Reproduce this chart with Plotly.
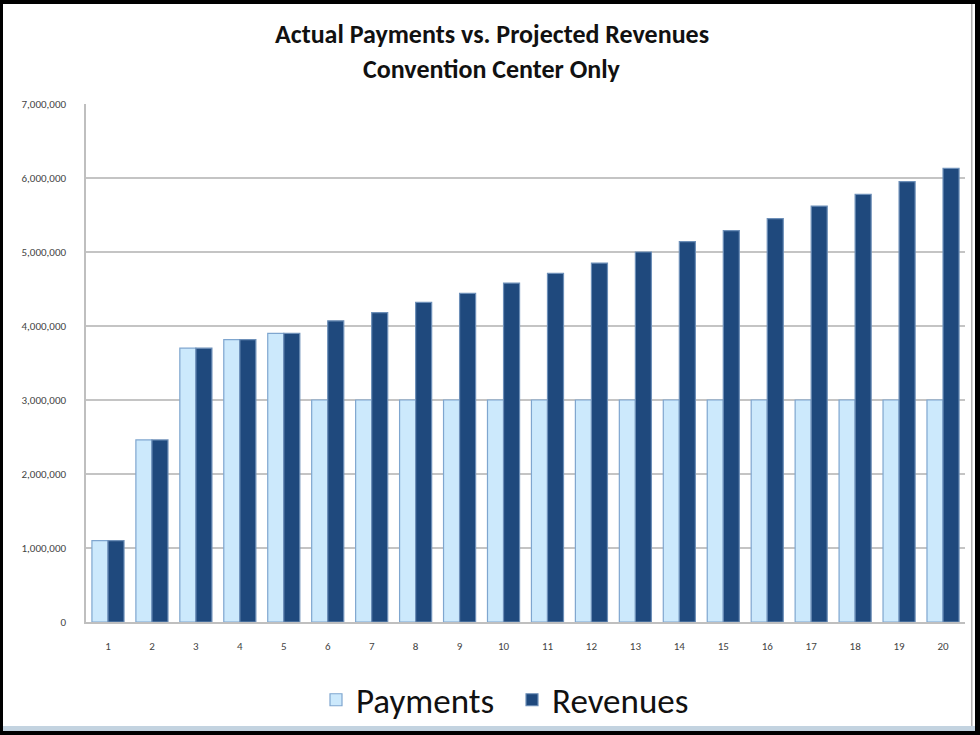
import plotly.graph_objects as go

years = [str(i) for i in range(1, 21)]
payments = [1100000, 2460000, 3700000, 3815000, 3900000,
            3000000, 3000000, 3000000, 3000000, 3000000,
            3000000, 3000000, 3000000, 3000000, 3000000,
            3000000, 3000000, 3000000, 3000000, 3000000]
revenues = [1100000, 2460000, 3700000, 3815000, 3900000,
            4070000, 4180000, 4320000, 4440000, 4580000,
            4710000, 4850000, 5000000, 5140000, 5290000,
            5450000, 5620000, 5780000, 5950000, 6130000]
y_ticks = [0, 1000000, 2000000, 3000000, 4000000, 5000000, 6000000, 7000000]

W, H = 980, 735
L, R, T, B = 86, 965, 104, 622
FONT = "Carlito, 'Liberation Sans Narrow', 'Open Sans', sans-serif"

def cx(x):
    return x / W

def cy(y):
    return 1 - y / H

fig = go.Figure()
fig.add_trace(go.Bar(name="Payments", x=years, y=payments,
                     marker=dict(color="#cce9fc", line=dict(color="#7fa6cf", width=1.2))))
fig.add_trace(go.Bar(name="Revenues", x=years, y=revenues,
                     marker=dict(color="#1f497d", line=dict(color="#6d8fb8", width=1.2))))

def crect(x0, y0, x1, y1, color):
    return dict(type="rect", xref="paper", yref="paper",
                x0=(x0 - L) / (R - L), x1=(x1 - L) / (R - L),
                y0=(B - y1) / (B - T), y1=(B - y0) / (B - T),
                fillcolor=color, line=dict(width=0), layer="above")

shapes = [
    crect(0, 0, 980, 4, "black"),
    crect(0, 0, 3, 735, "black"),
    crect(975, 0, 980, 735, "black"),
    crect(971, 4, 972.5, 727, "#b0b0b0"),
    crect(3, 726, 975, 731, "#c3d3e0"),
    crect(0, 731, 980, 735, "black"),
]

annotations = [
    dict(text="<b>Actual Payments vs. Projected Revenues</b>", xref="paper", yref="paper",
         x=(492 - L) / (R - L), y=(B - 34) / (B - T), showarrow=False,
         xanchor="center", yanchor="middle",
         font=dict(family=FONT, size=26, color="#111111")),
    dict(text="<b>Convention Center Only</b>", xref="paper", yref="paper",
         x=(492 - L) / (R - L), y=(B - 69) / (B - T), showarrow=False,
         xanchor="center", yanchor="middle",
         font=dict(family=FONT, size=26, color="#111111")),
]

fig.update_layout(
    width=W, height=H,
    margin=dict(l=L, r=W - R, t=T, b=H - B, autoexpand=False),
    paper_bgcolor="white", plot_bgcolor="white",
    barmode="group", bargap=0.27, bargroupgap=0,
    font=dict(family=FONT, color="#444444"),
    showlegend=True,
    legend=dict(orientation="h", xanchor="left", yanchor="middle",
                xref="container", yref="container",
                x=cx(316), y=cy(700), font=dict(family=FONT, size=35, color="#111111"),
                itemwidth=30, entrywidth=151, entrywidthmode="pixels",
                traceorder="normal", bgcolor="rgba(0,0,0,0)"),
    shapes=shapes,
    annotations=annotations,
    xaxis=dict(type="category", showline=True, linecolor="#bfbfbf", linewidth=1.5,
               ticks="", tickfont=dict(size=11, color="#444444"), showgrid=False,
               ticklabelstandoff=13),
    yaxis=dict(range=[0, 7000000], tickvals=y_ticks, tickformat=",",
               showgrid=True, gridcolor="#c4c4c4", gridwidth=1.5,
               showline=True, linecolor="#bfbfbf", linewidth=1.5,
               ticks="", tickfont=dict(size=11, color="#444444"), zeroline=False,
               ticklabelstandoff=16),
)

fig.write_html("out.html")
